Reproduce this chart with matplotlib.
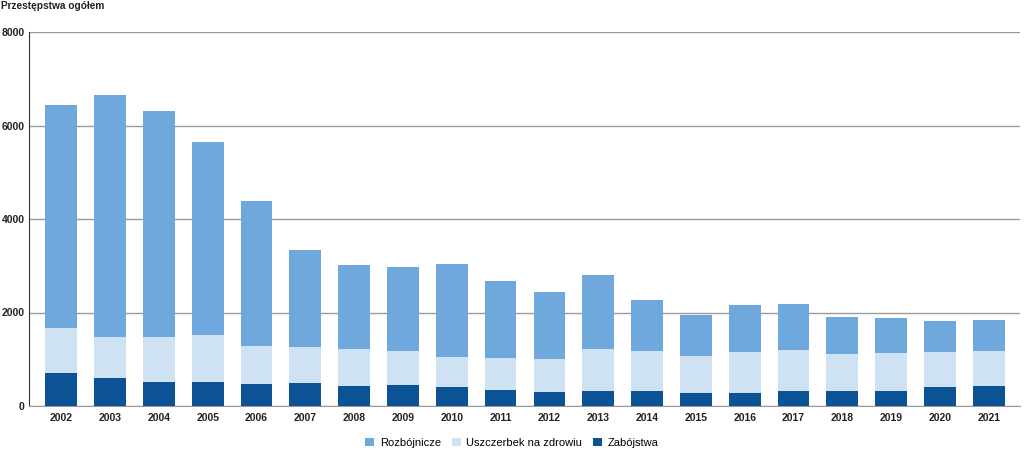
import matplotlib.pyplot as plt
import numpy as np

plt.rcParams["font.family"] = ["Liberation Sans", "DejaVu Sans"]

years = [str(y) for y in range(2002, 2022)]
# stacked segments (counts)
zabojstwa = [712, 592, 520, 520, 477, 485, 421, 442, 400, 342,
             306, 327, 327, 285, 285, 328, 314, 328, 406, 421]
uszczerbek_top = [1675, 1483, 1469, 1519, 1283, 1255, 1226, 1169, 1042, 1027,
                  1005, 1212, 1183, 1062, 1147, 1198, 1119, 1134, 1162, 1183]
total = [6432, 6645, 6310, 5640, 4392, 3337, 3010, 2967, 3031, 2674,
         2439, 2809, 2267, 1947, 2168, 2182, 1897, 1882, 1825, 1840]

zab = np.array(zabojstwa)
usz = np.array(uszczerbek_top) - zab
roz = np.array(total) - np.array(uszczerbek_top)

c_roz = "#6fa8dc"
c_usz = "#cfe2f3"
c_zab = "#0b5394"

fig = plt.figure(figsize=(10.24, 4.5), dpi=100)
ax = fig.add_axes([29 / 1024, 1 - 406 / 450, 991 / 1024, 374 / 450])

x = np.arange(len(years))
w = 0.65
ax.bar(x, zab, w, color=c_zab, label="Zabójstwa", zorder=3)
ax.bar(x, usz, w, bottom=zab, color=c_usz, label="Uszczerbek na zdrowiu", zorder=3)
ax.bar(x, roz, w, bottom=zab + usz, color=c_roz, label="Rozbójnicze", zorder=3)

ax.set_xlim(-0.66, len(years) - 1 + 0.64)
ax.set_ylim(0, 8000)
ax.set_yticks([0, 2000, 4000, 6000, 8000])
ax.set_xticks(x)
ax.set_xticklabels(years)
ax.yaxis.grid(True, color="#9a9a9a", linewidth=1)
ax.set_axisbelow(True)
for s in ["top", "right"]:
    ax.spines[s].set_visible(False)
ax.spines["left"].set_color("#333333")
ax.spines["bottom"].set_color("#9a9a9a")
ax.tick_params(axis="x", length=0, labelsize=7.5, pad=5)
ax.tick_params(axis="y", length=0, labelsize=7.5, pad=3)
for lab in ax.get_xticklabels() + ax.get_yticklabels():
    lab.set_fontweight("bold")
    lab.set_color("#222222")

fig.text(1 / 1024, 1 - 6 / 450, "Przestępstwa ogółem", fontsize=7.3,
         fontweight="bold", color="#222222", va="center", ha="left")

handles, labels = ax.get_legend_handles_labels()
order = [2, 1, 0]
fig.legend([handles[i] for i in order], [labels[i] for i in order],
           loc="center", bbox_to_anchor=(512 / 1024, 1 - 443 / 450), ncol=3,
           frameon=False, fontsize=8, handlelength=0.8, handleheight=0.8,
           columnspacing=1.0, handletextpad=0.5)

fig.savefig("out.png", dpi=100)
